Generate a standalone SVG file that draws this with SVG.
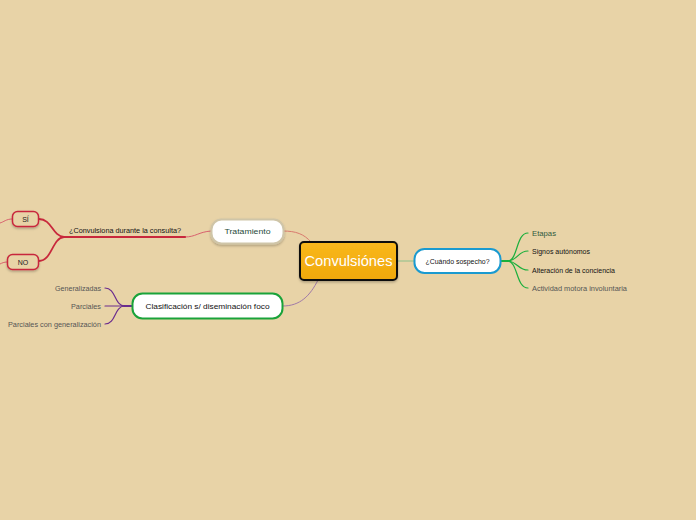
<svg xmlns="http://www.w3.org/2000/svg" width="696" height="520" viewBox="0 0 696 520">
<defs>
<linearGradient id="og" x1="0" y1="0" x2="0" y2="1">
<stop offset="0" stop-color="#F9B81C"/>
<stop offset="1" stop-color="#F0A80C"/>
</linearGradient>
<filter id="sh" x="-20%" y="-20%" width="140%" height="160%">
<feDropShadow dx="0" dy="1.5" stdDeviation="1" flood-color="#000" flood-opacity="0.25"/>
</filter>
</defs>
<style>
.t{font-family:"Liberation Sans","DejaVu Sans",sans-serif;font-size:7px}
.n{font-family:"Liberation Sans","DejaVu Sans",sans-serif;font-size:8px}
.thin{fill:none;stroke-width:1}
</style>
<rect width="696" height="520" fill="#E8D3A7"/>
<g id="connectors" fill="none" stroke-linecap="round">
<path d="M311,242 C304,234 296,231 283,231" stroke="#D97A6E" stroke-width="1"/>
<path d="M211,231 C198,232 196,237 185,237" stroke="#D9606E" stroke-width="1"/>
<path d="M185,237 L64,237" stroke="#C8283C" stroke-width="2.2"/>
<path d="M64,237 C52,236 52,219 39,219" stroke="#C8283C" stroke-width="1.8"/>
<path d="M64,237 C52,238 52,261 39,261" stroke="#C8283C" stroke-width="1.8"/>
<path d="M12,219 C6,219 4,222 0,223" stroke="#D9606E" stroke-width="1"/>
<path d="M7,262 C4,262 2,263 0,264" stroke="#D9606E" stroke-width="1"/>
<path d="M397,261 L414,261" stroke="#8CC08A" stroke-width="1"/>
<path d="M500,261 L508,261" stroke="#1AAF3C" stroke-width="2.2"/>
<path d="M508,261 C518,260 516,233 528,233" stroke="#1AAF3C" stroke-width="1.2"/>
<path d="M508,261 C518,260 518,251 528,251" stroke="#1AAF3C" stroke-width="1.2"/>
<path d="M508,261 C518,262 518,270 528,270" stroke="#1AAF3C" stroke-width="1.2"/>
<path d="M508,261 C518,262 516,288 528,288" stroke="#1AAF3C" stroke-width="1.2"/>
<path d="M318,280 C310,296 300,306 283,306" stroke="#A07AA8" stroke-width="1"/>
<path d="M132,306 L124,306" stroke="#6A2C8E" stroke-width="2.2"/>
<path d="M124,306 C114,305 116,288 105,288" stroke="#6A2C8E" stroke-width="1.2"/>
<path d="M124,306 L105,306" stroke="#6A2C8E" stroke-width="1.2"/>
<path d="M124,306 C114,307 116,324 105,324" stroke="#6A2C8E" stroke-width="1.2"/>
</g>
<g id="center">
<rect x="300" y="242" width="97" height="38" rx="4" fill="url(#og)" stroke="#111" stroke-width="2" filter="url(#sh)"/>
<text x="348.5" y="266" text-anchor="middle" font-family="Liberation Sans, DejaVu Sans, sans-serif" font-size="15" fill="#fff" textLength="88" lengthAdjust="spacingAndGlyphs">Convulsiónes</text>
</g>
<g id="tratamiento">
<rect x="211.5" y="219.5" width="72" height="24" rx="10" fill="#fff" stroke="#CFC5A8" stroke-width="2" filter="url(#sh)"/>
<text class="n" x="247.5" y="234" text-anchor="middle" fill="#1F4A3A" textLength="46" lengthAdjust="spacingAndGlyphs">Tratamiento</text>
</g>
<g id="convulsiona">
<text class="t" x="69" y="233" fill="#111" textLength="112" lengthAdjust="spacingAndGlyphs">¿Convulsiona durante la consulta?</text>
</g>
<g id="si">
<rect x="12.5" y="211.5" width="26" height="15" rx="5" fill="#E8D3A7" stroke="#C8283C" stroke-width="1.5" filter="url(#sh)"/>
<text class="t" x="25.5" y="221.5" text-anchor="middle" fill="#222">SÍ</text>
</g>
<g id="no">
<rect x="7.5" y="254.5" width="31" height="15" rx="5" fill="#E8D3A7" stroke="#C8283C" stroke-width="1.5" filter="url(#sh)"/>
<text class="t" x="23" y="264.5" text-anchor="middle" fill="#222">NO</text>
</g>
<g id="cuando">
<rect x="414.5" y="249" width="86" height="24" rx="10" fill="#fff" stroke="#1A9AD0" stroke-width="2"/>
<text class="t" x="457.5" y="263.5" text-anchor="middle" fill="#111" textLength="64" lengthAdjust="spacingAndGlyphs">¿Cuándo sospecho?</text>
</g>
<g id="etapas"><text class="t" x="532" y="235.5" fill="#2F5A3E" textLength="24" lengthAdjust="spacingAndGlyphs">Etapas</text></g>
<g id="signos"><text class="t" x="532" y="253.5" fill="#111" textLength="58" lengthAdjust="spacingAndGlyphs">Signos autónomos</text></g>
<g id="alteracion"><text class="t" x="532" y="272.5" fill="#111" textLength="83" lengthAdjust="spacingAndGlyphs">Alteración de la conciencia</text></g>
<g id="actividad"><text class="t" x="532" y="290.5" fill="#555" textLength="95" lengthAdjust="spacingAndGlyphs">Actividad motora involuntaria</text></g>
<g id="clasificacion">
<rect x="132.5" y="293.5" width="150" height="25" rx="10" fill="#fff" stroke="#1AA33A" stroke-width="2"/>
<text class="n" x="207.5" y="308.5" text-anchor="middle" fill="#111" textLength="124" lengthAdjust="spacingAndGlyphs">Clasificación s/ diseminación foco</text>
</g>
<g id="generalizadas"><text class="t" x="101" y="290.5" text-anchor="end" fill="#555" textLength="46" lengthAdjust="spacingAndGlyphs">Generalizadas</text></g>
<g id="parciales"><text class="t" x="101" y="308.5" text-anchor="end" fill="#555" textLength="30" lengthAdjust="spacingAndGlyphs">Parciales</text></g>
<g id="parcialesgen"><text class="t" x="101" y="326.5" text-anchor="end" fill="#555" textLength="93" lengthAdjust="spacingAndGlyphs">Parciales con generalización</text></g>
</svg>
